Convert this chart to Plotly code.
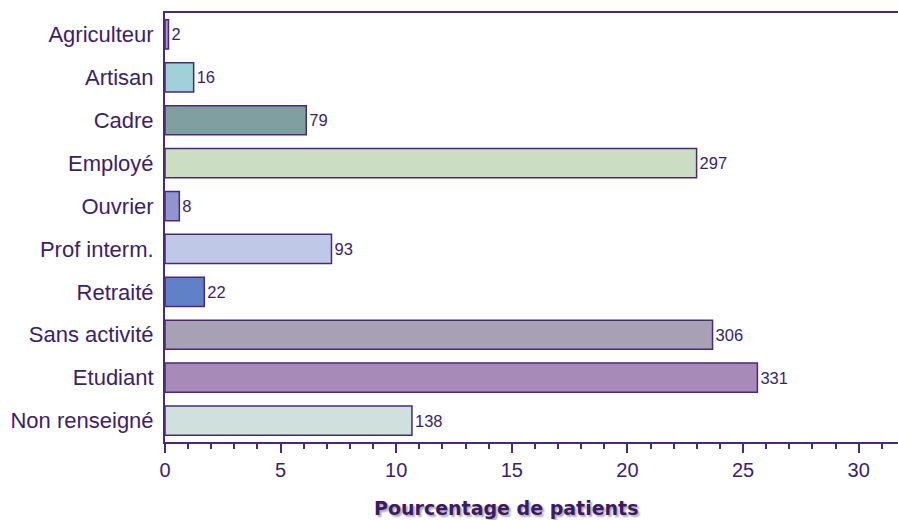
import plotly.graph_objects as go

categories = ["Agriculteur", "Artisan", "Cadre", "Employé", "Ouvrier",
              "Prof interm.", "Retraité", "Sans activité", "Etudiant", "Non renseigné"]
percentages = [0.15, 1.24, 6.11, 22.99, 0.62, 7.20, 1.70, 23.68, 25.62, 10.68]
counts = [2, 16, 79, 297, 8, 93, 22, 306, 331, 138]
colors = ["#a898d0", "#a0d0d8", "#7f9fa0", "#cbdec1", "#8f95d0",
          "#c0c8e8", "#6080c8", "#a8a0b4", "#a88ab8", "#d0e0dc"]

line_col = "#4a2a78"
text_col = "#3c1e6e"

fig = go.Figure(go.Bar(
    x=percentages, y=categories, orientation="h",
    marker=dict(color=colors, line=dict(color=line_col, width=1.5)),
    width=0.68,
    text=[str(c) for c in counts], textposition="outside",
    textfont=dict(family="Liberation Sans, Arial", size=16.5, color=text_col),
    cliponaxis=False,
))

fig.update_layout(
    width=898, height=520,
    margin=dict(l=165, r=0, t=13, b=78),
    plot_bgcolor="white", paper_bgcolor="white",
    showlegend=False,
    font=dict(family="Liberation Sans, Arial", color=text_col),
    xaxis=dict(
        range=[0, 31.7], tick0=0, dtick=5,
        showgrid=False, zeroline=False,
        showline=True, linecolor=line_col, linewidth=2, mirror=True,
        ticks="outside", ticklen=9, tickwidth=1.5, tickcolor=line_col,
        minor=dict(dtick=1, ticks="outside", ticklen=5, tickwidth=1.5, tickcolor=line_col),
        tickfont=dict(size=20, color=text_col),
    ),
    yaxis=dict(
        autorange="reversed",
        showgrid=False, zeroline=False,
        showline=True, linecolor=line_col, linewidth=2,
        ticks="", ticklabelstandoff=5,
        tickfont=dict(size=22, color=text_col),
    ),
    annotations=[dict(
        text="<b>Pourcentage de patients</b>",
        xref="paper", yref="paper", x=0.465, y=-0.155,
        xanchor="center", yanchor="middle", showarrow=False,
        font=dict(family="DejaVu Sans, Verdana", size=19, color="#3a1a68",
                  shadow="2px 2px 2px #aaaaaa"),
    )],
)

fig.write_html("out.html", config={"displayModeBar": False},
               post_script="document.body.style.margin='0';")
